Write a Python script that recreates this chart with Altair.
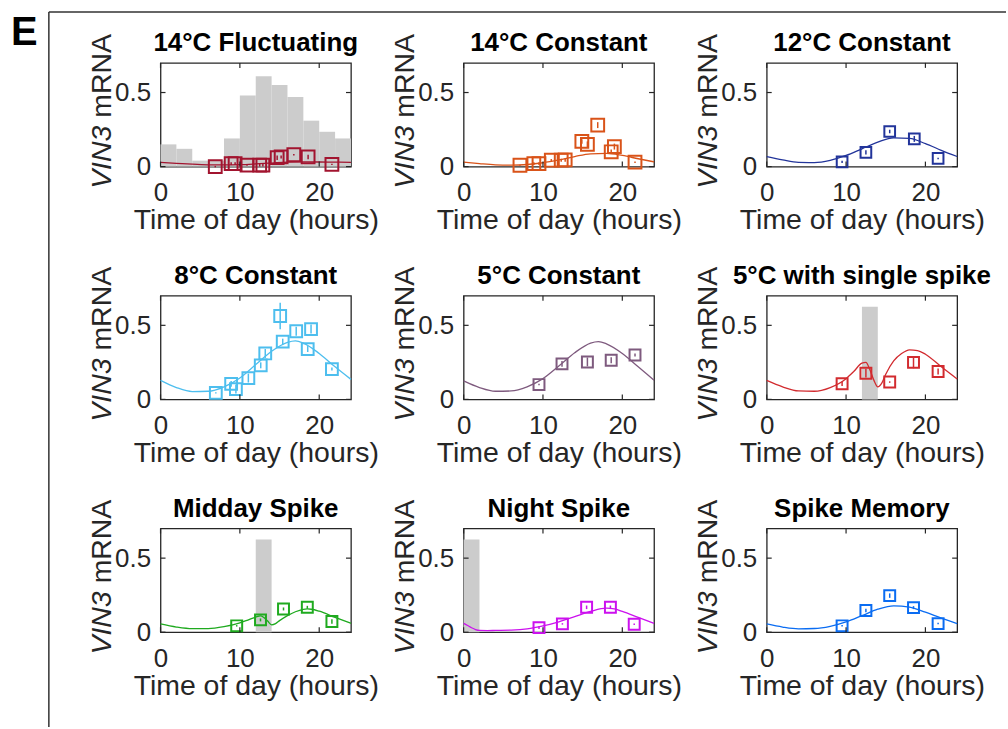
import altair as alt
import pandas as pd

FONT = "Liberation Sans"
INK = "#262626"
GREY = "#CCCCCC"

titles = ["14°C Fluctuating", "14°C Constant", "12°C Constant",
          "8°C Constant", "5°C Constant", "5°C with single spike",
          "Midday Spike", "Night Spike", "Spike Memory"]
colors = ["#A2142F", "#D95319", "#22349A", "#4DBEEE", "#7E5A7E",
          "#D22B2F", "#1FAA1F", "#CC11EE", "#0A6CF2"]
marker_sizes = [165, 165, 115, 140, 120, 120, 120, 120, 120]

x_ticks = [0, 10, 20]
y_ticks = [0, 0.5]

# ---- measured points (time, mean, error) ----
p1_t = [6.9, 8.9, 9.4, 10.9, 12.5, 12.9, 14.7, 15.2, 16.8, 18.6, 21.6]
p1_v = [0.0, 0.02, 0.02, 0.01, 0.01, 0.01, 0.06, 0.065, 0.08, 0.065, 0.015]
p1_e = [0.005, 0.01, 0.01, 0.005, 0.01, 0.01, 0.015, 0.01, 0.005, 0.015, 0.005]

p2_t = [7.1, 8.85, 9.5, 11.05, 12.3, 12.8, 14.9, 15.6, 16.9, 18.6, 19.0, 21.6]
p2_v = [0.009, 0.02, 0.02, 0.043, 0.043, 0.045, 0.17, 0.15, 0.28, 0.10, 0.135, 0.03]
p2_e = [0.003, 0.01, 0.01, 0.008, 0.01, 0.012, 0.015, 0.02, 0.02, 0.015, 0.02, 0.005]

p3_t = [9.5, 12.5, 15.5, 18.6, 21.6]
p3_v = [0.032, 0.096, 0.237, 0.187, 0.055]
p3_e = [0.008, 0.015, 0.012, 0.02, 0.005]

p4_t = [6.97, 8.9, 9.5, 11.07, 12.63, 13.2, 15.08, 15.4, 17.1, 18.55, 18.97, 21.6]
p4_v = [0.044, 0.105, 0.07, 0.144, 0.23, 0.31, 0.563, 0.39, 0.46, 0.34, 0.475, 0.205]
p4_e = [0.005, 0.02, 0.03, 0.03, 0.02, 0.03, 0.09, 0.02, 0.03, 0.02, 0.03, 0.01]

p5_t = [9.5, 12.4, 15.6, 18.6, 21.6]
p5_v = [0.10, 0.24, 0.253, 0.264, 0.30]
p5_e = [0.005, 0.02, 0.03, 0.02, 0.01]

p6_t = [9.5, 12.5, 15.5, 18.5, 21.6]
p6_v = [0.106, 0.177, 0.117, 0.25, 0.188]
p6_e = [0.015, 0.03, 0.005, 0.04, 0.02]

p7_t = [9.6, 12.6, 15.5, 18.5, 21.6]
p7_v = [0.043, 0.083, 0.157, 0.168, 0.072]
p7_e = [0.005, 0.01, 0.01, 0.01, 0.015]

p8_t = [9.5, 12.45, 15.5, 18.5, 21.5]
p8_v = [0.031, 0.056, 0.168, 0.168, 0.054]
p8_e = [0.01, 0.005, 0.012, 0.012, 0.005]

p9_t = [9.5, 12.5, 15.5, 18.5, 21.6]
p9_v = [0.043, 0.146, 0.247, 0.166, 0.058]
p9_e = [0.005, 0.012, 0.015, 0.01, 0.005]

# ---- model curves (time, value) ----
c_even = [0, 2, 4, 6, 8, 10, 12, 14, 16, 18, 20, 22, 24]
c1_v = [0.028, 0.022, 0.016, 0.012, 0.011, 0.013, 0.018, 0.024, 0.030, 0.032, 0.031, 0.030, 0.028]
c2_v = [0.030, 0.020, 0.012, 0.010, 0.014, 0.026, 0.045, 0.068, 0.086, 0.089, 0.075, 0.053, 0.032]
c3_v = [0.068, 0.045, 0.028, 0.027, 0.042, 0.075, 0.120, 0.165, 0.194, 0.190, 0.155, 0.110, 0.068]
c9_v = [0.056, 0.035, 0.023, 0.025, 0.040, 0.070, 0.112, 0.155, 0.178, 0.170, 0.135, 0.095, 0.058]

c45_t = [0, 2, 4, 6, 8, 10, 12, 14, 16, 17, 18, 20, 22, 24]
c4_v = [0.128, 0.080, 0.053, 0.055, 0.085, 0.145, 0.235, 0.325, 0.385, 0.395, 0.380, 0.310, 0.220, 0.135]
c5_v = [0.125, 0.080, 0.055, 0.057, 0.085, 0.140, 0.225, 0.315, 0.380, 0.390, 0.375, 0.310, 0.220, 0.130]

c6_t = [0, 2, 4, 6, 8, 10, 11, 12, 12.5, 13, 13.5, 14, 14.5, 15, 16, 17, 18, 19, 20, 22, 24]
c6_v = [0.128, 0.085, 0.057, 0.055, 0.080, 0.140, 0.190, 0.245, 0.250, 0.200, 0.130, 0.085,
        0.110, 0.170, 0.260, 0.310, 0.335, 0.330, 0.305, 0.220, 0.138]

c7_t = [0, 2, 4, 6, 8, 10, 11, 12, 12.6, 13, 13.5, 14, 14.5, 15, 16, 17, 18, 18.5, 19, 20, 22, 24]
c7_v = [0.056, 0.035, 0.024, 0.024, 0.037, 0.063, 0.082, 0.102, 0.110, 0.100, 0.075, 0.050,
        0.058, 0.078, 0.112, 0.138, 0.154, 0.157, 0.155, 0.142, 0.100, 0.060]

c8_t = [0, 0.5, 1, 1.5, 2, 3, 4, 6, 8, 10, 12, 14, 16, 18, 19, 20, 22, 24]
c8_v = [0.060, 0.045, 0.030, 0.018, 0.012, 0.011, 0.012, 0.014, 0.022, 0.042, 0.070, 0.105,
        0.140, 0.162, 0.158, 0.140, 0.100, 0.060]

# ---- grey temperature bars (start, end, height) ----
h1_start = [0, 2, 4, 6, 8, 10, 12, 14, 16, 18, 20, 22]
h1_end = [2, 4, 6, 8, 10, 12, 14, 16, 18, 20, 22, 24]
h1_h = [0.15, 0.12, 0.04, 0.04, 0.19, 0.48, 0.61, 0.55, 0.47, 0.31, 0.235, 0.19]
spike_mid = ([12], [14], [0.625])
spike_night = ([0], [2], [0.625])

panels_data = [
    (p1_t, p1_v, p1_e, c_even, c1_v, (h1_start, h1_end, h1_h)),
    (p2_t, p2_v, p2_e, c_even, c2_v, None),
    (p3_t, p3_v, p3_e, c_even, c3_v, None),
    (p4_t, p4_v, p4_e, c45_t, c4_v, None),
    (p5_t, p5_v, p5_e, c45_t, c5_v, None),
    (p6_t, p6_v, p6_e, c6_t, c6_v, spike_mid),
    (p7_t, p7_v, p7_e, c7_t, c7_v, spike_mid),
    (p8_t, p8_v, p8_e, c8_t, c8_v, spike_night),
    (p9_t, p9_v, p9_e, c_even, c9_v, None),
]

W, H = 191, 104
xs = alt.Scale(domain=[0, 24], nice=False)
ys = alt.Scale(domain=[0, 0.7], nice=False)
x_axis = alt.Axis(values=x_ticks, title="Time of day (hours)", labelFlush=False)
y_axis = alt.Axis(values=y_ticks, format="~g", title=None, labelFlush=False)


def panel(idx):
    pt, pv, pe, ct, cv, bars = panels_data[idx]
    col = colors[idx]
    pts = pd.DataFrame({"t": pt, "v": pv, "e": pe})
    crv = pd.DataFrame({"t": ct, "v": cv})
    layers = []
    if bars is not None:
        bdf = pd.DataFrame({"t": bars[0], "t1": bars[1], "v": bars[2]})
        layers.append(
            alt.Chart(bdf).mark_rect(color=GREY).encode(
                x=alt.X("t:Q", scale=xs, axis=x_axis),
                x2="t1:Q",
                y=alt.Y("v:Q", scale=ys, axis=y_axis),
                y2=alt.datum(0),
            )
        )
    layers.append(
        alt.Chart(crv).mark_line(color=col, strokeWidth=1.3, interpolate="monotone").encode(
            x=alt.X("t:Q", scale=xs, axis=x_axis),
            y=alt.Y("v:Q", scale=ys, axis=y_axis),
        )
    )
    layers.append(
        alt.Chart(pts).transform_calculate(lo="datum.v - datum.e", hi="datum.v + datum.e")
        .mark_rule(color=col, strokeWidth=1.5).encode(
            x=alt.X("t:Q", scale=xs, axis=x_axis),
            y=alt.Y("lo:Q", scale=ys, axis=y_axis),
            y2="hi:Q",
        )
    )
    layers.append(
        alt.Chart(pts).mark_point(shape="square", filled=False, size=marker_sizes[idx],
                                  strokeWidth=2, color=col, opacity=1).encode(
            x=alt.X("t:Q", scale=xs, axis=x_axis),
            y=alt.Y("v:Q", scale=ys, axis=y_axis),
        )
    )
    # inward ticks (MATLAB style)
    xt = pd.DataFrame({"t": x_ticks})
    yt = pd.DataFrame({"v": y_ticks})
    for y0, y1 in [(H, H - 5), (0, 5)]:
        layers.append(
            alt.Chart(xt).mark_rule(color=INK, strokeWidth=1.2).encode(
                x=alt.X("t:Q", scale=xs, axis=x_axis),
                y=alt.value(y0), y2=alt.value(y1),
            )
        )
    for x0, x1 in [(0, 5), (W, W - 5)]:
        layers.append(
            alt.Chart(yt).mark_rule(color=INK, strokeWidth=1.2).encode(
                y=alt.Y("v:Q", scale=ys, axis=y_axis),
                x=alt.value(x0), x2=alt.value(x1),
            )
        )
    one = pd.DataFrame({"a": [0]})
    # panel title
    layers.append(
        alt.Chart(one).mark_text(text=titles[idx], font=FONT, fontSize=26, fontWeight="bold",
                                 color="black", align="center", baseline="alphabetic")
        .encode(x=alt.value(W / 2), y=alt.value(-12))
    )
    # y axis title with italic gene name
    layers.append(
        alt.Chart(one).mark_text(text="VIN3", font=FONT, fontSize=28.5, fontStyle="italic",
                                 color=INK, angle=270, align="right", baseline="alphabetic")
        .encode(x=alt.value(-50), y=alt.value(63))
    )
    layers.append(
        alt.Chart(one).mark_text(text="mRNA", font=FONT, fontSize=28.5, color=INK,
                                 angle=270, align="left", baseline="alphabetic")
        .encode(x=alt.value(-50), y=alt.value(55))
    )
    if idx == 0:
        layers.append(
            alt.Chart(one).mark_text(text="E", font=FONT, fontSize=40, fontWeight="bold",
                                     color="black", align="left", baseline="alphabetic")
            .encode(x=alt.value(-150), y=alt.value(-18))
        )
        layers.append(
            alt.Chart(one).mark_rule(color="#333333", strokeWidth=1.5)
            .encode(x=alt.value(-112), y=alt.value(-51), y2=alt.value(666))
        )
        layers.append(
            alt.Chart(one).mark_rule(color="#333333", strokeWidth=1.5)
            .encode(x=alt.value(-112), x2=alt.value(848), y=alt.value(-51))
        )
    return alt.layer(*layers).properties(width=W, height=H)


chart = alt.concat(
    *[panel(i) for i in range(9)],
    columns=3,
    spacing={"row": 129.5, "column": 113},
    bounds="flush",
).properties(
    padding={"left": 10, "top": 9, "right": 0, "bottom": 0},
).configure(
    font=FONT, background="white"
).configure_view(
    stroke=INK, strokeWidth=1.3
).configure_axis(
    domain=False, ticks=False, grid=False,
    labelFont=FONT, labelFontSize=26, labelColor=INK, labelPadding=10,
    titleFont=FONT, titleFontSize=28.5, titleColor=INK, titleFontWeight="normal",
    titlePadding=0, labelOverlap=False,
).configure_axisX(
    labelPadding=13,
)

chart.save("out.html", embed_options={"renderer": "svg", "actions": False})
